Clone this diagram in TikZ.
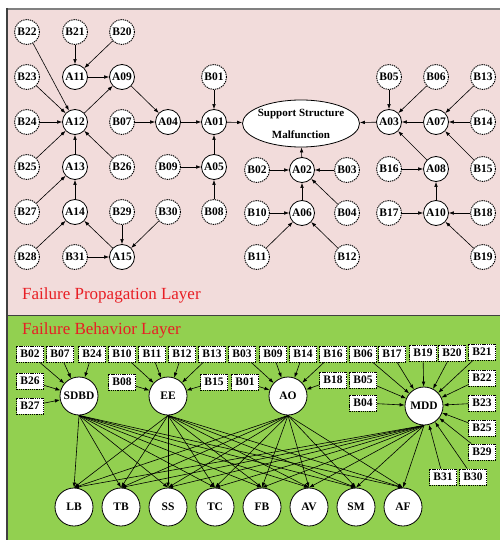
\documentclass[tikz,border=0pt]{standalone}
\usepackage{fontspec}
\setmainfont{Liberation Serif}
\usetikzlibrary{arrows.meta,shapes.geometric}

\definecolor{pinkbg}{HTML}{F2DCDB}
\definecolor{greenbg}{HTML}{92D050}
\definecolor{layerred}{RGB}{232,30,36}
\definecolor{framegray}{HTML}{808080}
\definecolor{framedark}{HTML}{404040}

\begin{document}
\begin{tikzpicture}[x=1pt,y=-1pt,
  lbl/.style={font=\fontsize{11.5}{12}\selectfont\bfseries},
  anode/.style={circle,draw,fill=white,line width=0.8pt,minimum size=25pt,inner sep=0pt,lbl},
  bnode/.style={circle,draw,fill=white,line width=0.9pt,dash pattern=on 1.3pt off 0.9pt,minimum size=25pt,inner sep=0pt,lbl},
  bbox/.style={rectangle,draw,fill=white,line width=0.9pt,dash pattern=on 1.3pt off 0.9pt,minimum width=27pt,minimum height=16pt,inner sep=0pt,lbl},
  fnode/.style={circle,draw,fill=white,line width=0.8pt,minimum size=38pt,inner sep=0pt,lbl},
  arr/.style={-{Latex[length=5pt,width=3.6pt]},line width=0.6pt},
  layertitle/.style={anchor=base west,text=layerred,font=\fontsize{17}{20}\selectfont,inner sep=0pt},
]
\useasboundingbox (0,0) rectangle (500,540);

% layer backgrounds and frame
\fill[white] (0,0) rectangle (500,540);
\fill[pinkbg] (7,9) rectangle (500,315.5);
\fill[greenbg] (7,315.5) rectangle (500,540);
\draw[framegray,line width=2pt] (6,9) -- (500,9);
\draw[framedark,line width=1.4pt] (7,8) -- (7,540);
\draw[framedark,line width=1.2pt] (7,315.5) -- (500,315.5);

\node[layertitle] (title1) at (22,299) {Failure Propagation Layer};
\node[layertitle] (title2) at (22,334) {Failure Behavior Layer};

% ---------------- failure propagation layer ----------------
\node[bnode] (B22) at (27,32) {B22};
\node[bnode] (B21) at (75,32) {B21};
\node[bnode] (B20) at (122,32) {B20};
\node[bnode] (B23) at (27,77) {B23};
\node[anode] (A11) at (75,77) {A11};
\node[anode] (A09) at (122,77) {A09};
\node[bnode] (B01) at (214,77) {B01};
\node[bnode] (B24) at (27,122) {B24};
\node[anode] (A12) at (75,122) {A12};
\node[bnode] (B07) at (122,122) {B07};
\node[anode] (A04) at (168,122) {A04};
\node[anode] (A01) at (214,122) {A01};
\node[bnode] (B25) at (27,167) {B25};
\node[anode] (A13) at (75,167) {A13};
\node[bnode] (B26) at (122,167) {B26};
\node[bnode] (B09) at (168,167) {B09};
\node[anode] (A05) at (214,167) {A05};
\node[bnode] (B27) at (27,212) {B27};
\node[anode] (A14) at (75,212) {A14};
\node[bnode] (B29) at (122,212) {B29};
\node[bnode] (B30) at (168,212) {B30};
\node[bnode] (B08) at (214,212) {B08};
\node[bnode] (B28) at (27,257) {B28};
\node[bnode] (B31) at (75,257) {B31};
\node[anode] (A15) at (122,257) {A15};

\node[ellipse,draw,fill=white,line width=0.8pt,minimum width=117pt,minimum height=47pt,inner sep=0pt] (SSM) at (301,123.5) {};
\node[lbl,font=\fontsize{11}{22}\selectfont\bfseries,align=center,inner sep=0pt] (SSMtext) at (SSM) {Support Structure\\Malfunction};

\node[bnode] (B02) at (257,170) {B02};
\node[anode] (A02) at (302,170) {A02};
\node[bnode] (B03) at (347,170) {B03};
\node[bnode] (B10) at (257,213) {B10};
\node[anode] (A06) at (302,213) {A06};
\node[bnode] (B04) at (347,213) {B04};
\node[bnode] (B11) at (257,257) {B11};
\node[bnode] (B12) at (347,257) {B12};

\node[bnode] (B05) at (389,77) {B05};
\node[bnode] (B06) at (436,77) {B06};
\node[bnode] (B13) at (483,77) {B13};
\node[anode] (A03) at (389,122) {A03};
\node[anode] (A07) at (436,122) {A07};
\node[bnode] (B14) at (483,122) {B14};
\node[bnode] (B16) at (389,169) {B16};
\node[anode] (A08) at (436,169) {A08};
\node[bnode] (B15) at (483,169) {B15};
\node[bnode] (B17) at (389,213) {B17};
\node[anode] (A10) at (436,213) {A10};
\node[bnode] (B18) at (483,213) {B18};
\node[bnode] (B19) at (483,257) {B19};

\foreach \s/\t in {B21/A11,B20/A11,A11/A09,B22/A12,B23/A12,B24/A12,A12/A09,
  A09/A04,B07/A04,A04/A01,B01/A01,A05/A01,B09/A05,B08/A05,A01/SSM,
  A13/A12,B25/A12,B26/A12,A14/A13,B27/A13,B28/A14,A15/A14,B29/A15,B30/A15,B31/A15,
  A02/SSM,B02/A02,B03/A02,B04/A02,A06/A02,B10/A06,B11/A06,B12/A06,
  A03/SSM,B05/A03,B06/A03,A07/A03,A08/A03,B13/A07,B14/A07,B15/A07,
  B16/A08,A10/A08,B17/A10,B18/A10,B19/A10}
  \draw[arr] (\s) -- (\t);

% ---------------- failure behavior layer ----------------
\node[fnode] (SDBD) at (79,396) {SDBD};
\node[fnode] (EE) at (168,396) {EE};
\node[fnode] (AO) at (288,396) {AO};
\node[fnode] (MDD) at (424,406) {MDD};

\node[fnode] (LB) at (74,507) {LB};
\node[fnode] (TB) at (121,507) {TB};
\node[fnode] (SS) at (168,507) {SS};
\node[fnode] (TC) at (215,507) {TC};
\node[fnode] (FB) at (262,507) {FB};
\node[fnode] (AV) at (309,507) {AV};
\node[fnode] (SM) at (356,507) {SM};
\node[fnode] (AF) at (403,507) {AF};

\foreach \n/\x/\y in {02/30/354,07/60/354,24/92/354,10/122/354,11/152/354,12/182/354,
  13/212/354,03/242/354,09/273/354,14/303/354,16/333/354,06/363/354,17/392/354,
  19/423/353,20/452/353,21/482/352,
  26/30/381,08/122/382,15/214/382,01/245/382,18/333/380,05/363/380,22/482/378,
  27/30/406,04/363/403,23/482/403,25/482/428,29/482/452,31/443/477,30/473/477}
  \node[bbox] (bx\n) at (\x,\y) {B\n};

\foreach \n in {02,07,24,26,27} \draw[arr] (bx\n) -- (SDBD);
\foreach \n in {10,11,12,13,08,15} \draw[arr] (bx\n) -- (EE);
\foreach \n in {03,09,14,16,01,18} \draw[arr] (bx\n) -- (AO);
\foreach \n in {06,17,19,20,21,05,04,22,23,25,29,31,30} \draw[arr] (bx\n) -- (MDD);

\foreach \s in {SDBD,EE,AO,MDD}
  \foreach \t in {LB,TB,SS,TC,FB,AV,SM,AF}
    \draw[arr] (\s.south) -- (\t.north);
\end{tikzpicture}
\end{document}
